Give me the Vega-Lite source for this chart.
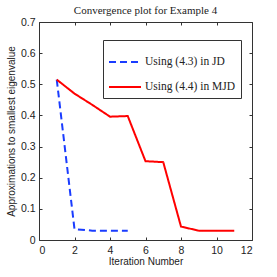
{
  "$schema": "https://vega.github.io/schema/vega-lite/v6.json",
  "width": 213,
  "height": 218,
  "autosize": {"type": "none"},
  "padding": {"left": 39, "top": 22, "right": 25, "bottom": 37},
  "background": "white",
  "title": {"text": "Convergence plot for Example 4", "font": "Liberation Serif", "fontSize": 11, "fontWeight": "normal", "color": "#222", "offset": 1},
  "config": {"view": {"stroke": "#333", "strokeWidth": 1}},
  "data": {"values": [
    {"it": 1, "v": 0.515, "s": "Using (4.3) in JD"},
    {"it": 2, "v": 0.035, "s": "Using (4.3) in JD"},
    {"it": 3, "v": 0.030, "s": "Using (4.3) in JD"},
    {"it": 4, "v": 0.030, "s": "Using (4.3) in JD"},
    {"it": 5, "v": 0.030, "s": "Using (4.3) in JD"},
    {"it": 1, "v": 0.515, "s": "Using (4.4) in MJD"},
    {"it": 2, "v": 0.470, "s": "Using (4.4) in MJD"},
    {"it": 3, "v": 0.434, "s": "Using (4.4) in MJD"},
    {"it": 4, "v": 0.396, "s": "Using (4.4) in MJD"},
    {"it": 5, "v": 0.398, "s": "Using (4.4) in MJD"},
    {"it": 6, "v": 0.253, "s": "Using (4.4) in MJD"},
    {"it": 7, "v": 0.250, "s": "Using (4.4) in MJD"},
    {"it": 8, "v": 0.043, "s": "Using (4.4) in MJD"},
    {"it": 9, "v": 0.030, "s": "Using (4.4) in MJD"},
    {"it": 10, "v": 0.030, "s": "Using (4.4) in MJD"},
    {"it": 11, "v": 0.030, "s": "Using (4.4) in MJD"}
  ]},
  "layer": [
    {
      "mark": {"type": "line", "strokeWidth": 2},
      "encoding": {
        "x": {"field": "it", "type": "quantitative", "scale": {"domain": [0, 12], "nice": false},
              "axis": {"title": "Iteration Number", "values": [0,2,4,6,8,10,12], "grid": false, "domain": false,
                       "tickSize": -3, "tickColor": "#333", "labelFont": "Liberation Sans", "labelFontSize": 10.5, "labelColor": "#222",
                       "labelPadding": 8, "titleFont": "Liberation Sans", "titleFontSize": 10, "titleFontWeight": "normal", "titleColor": "#222", "titlePadding": 1}},
        "y": {"field": "v", "type": "quantitative", "scale": {"domain": [0, 0.7], "nice": false},
              "axis": {"title": "Approximations to smallest eigenvalue", "values": [0,0.1,0.2,0.3,0.4,0.5,0.6,0.7], "format": ".1~f", "grid": false, "domain": false,
                       "tickSize": -3, "tickColor": "#333", "labelFont": "Liberation Sans", "labelFontSize": 10.5, "labelColor": "#222",
                       "labelPadding": 7, "titleFont": "Liberation Sans", "titleFontSize": 10, "titleFontWeight": "normal", "titleColor": "#222", "titlePadding": 4}},
        "color": {"field": "s", "type": "nominal", "scale": {"range": ["#1a3cff", "#ff0000"]},
                  "legend": {"title": null, "orient": "none", "legendX": 64, "legendY": 18, "symbolType": "stroke", "symbolSize": 1024, "symbolStrokeWidth": 2,
                             "labelFont": "Liberation Serif", "labelFontSize": 11.5, "labelColor": "#222", "strokeColor": "#333", "fillColor": "white",
                             "padding": 5, "rowPadding": 2, "labelOffset": 3}},
        "strokeDash": {"field": "s", "type": "nominal", "scale": {"range": [[7, 4], [1, 0]]}, "legend": null}
      }
    },
    {
      "mark": {"type": "rule", "opacity": 0},
      "encoding": {
        "x": {"field": "it", "type": "quantitative", "axis": {"orient": "top", "values": [0,2,4,6,8,10,12], "labels": false, "title": null, "domain": false, "grid": false, "tickSize": -3, "tickColor": "#333"}},
        "y": {"field": "v", "type": "quantitative", "axis": {"orient": "right", "values": [0,0.1,0.2,0.3,0.4,0.5,0.6,0.7], "labels": false, "title": null, "domain": false, "grid": false, "tickSize": -3, "tickColor": "#333"}}
      }
    }
  ],
  "resolve": {"axis": {"x": "independent", "y": "independent"}}
}
